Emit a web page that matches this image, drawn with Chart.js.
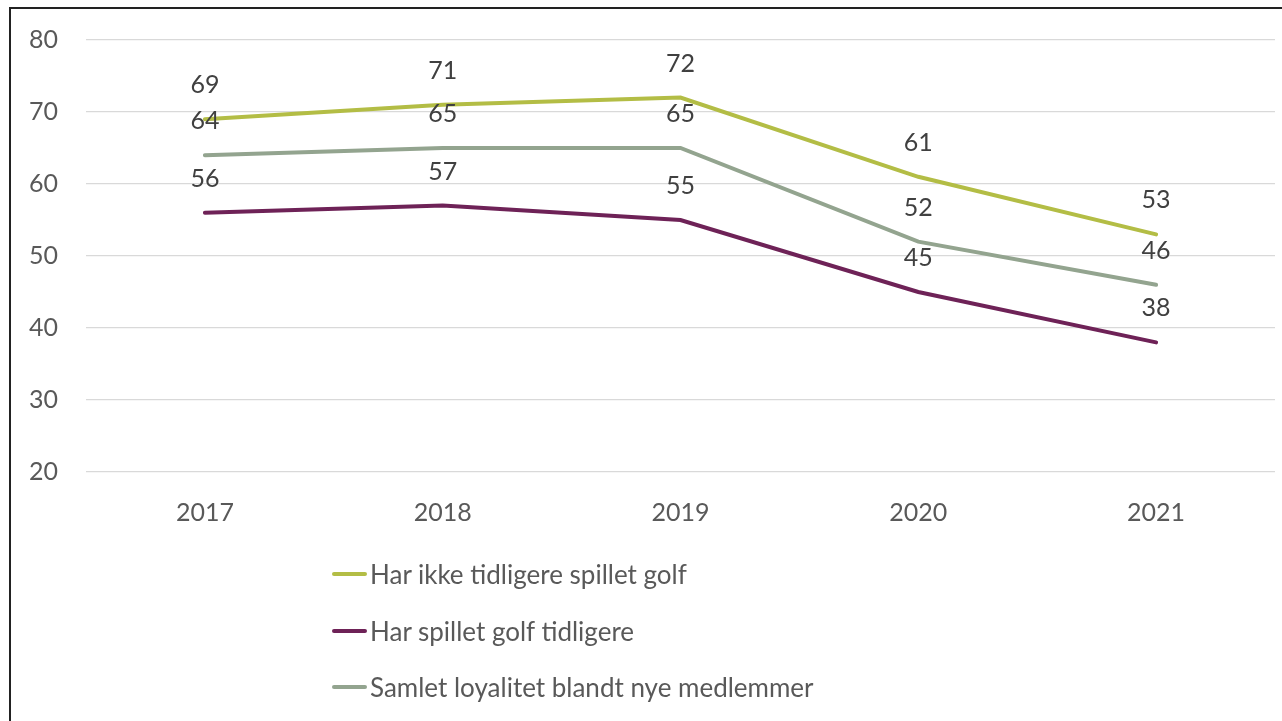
<!DOCTYPE html>
<html>
<head>
<meta charset="utf-8">
<script src="https://cdn.jsdelivr.net/npm/chart.js@4/dist/chart.umd.min.js"></script>
<style>
  html, body { margin: 0; padding: 0; background: #fff; }
  #wrap { position: relative; width: 1282px; height: 721px; overflow: hidden; }
  #frame { position: absolute; left: 9px; top: 7px; width: 1300px; height: 740px;
           border-left: 2px solid #222; border-top: 2px solid #222; box-sizing: border-box; }
  #myChart { position: absolute; left: 0; top: -3px; }
  #legend { position: absolute; left: 332px; top: 546px; font-family: Lato, "Open Sans", sans-serif;
            font-size: 26px; color: #595959; }
  #legend div { height: 56.5px; display: flex; align-items: center; }
  #legend span.sw { display: inline-block; width: 35px; height: 4px; margin-right: 3px; border-radius: 2px; }
</style>
</head>
<body>
<div id="wrap">
  <div id="frame"></div>
  <canvas id="myChart" width="1282" height="721"></canvas>
  <div id="legend"></div>
</div>
<script>
var aar = ['2017', '2018', '2019', '2020', '2021'];
var ikkeTidligere = [69, 71, 72, 61, 53];
var spiltTidligere = [56, 57, 55, 45, 38];
var samlet = [64, 65, 65, 52, 46];

var navn = ['Har ikke tidligere spillet golf', 'Har spillet golf tidligere', 'Samlet loyalitet blandt nye medlemmer'];
var farger = ['#b3bd45', '#6e2257', '#93a48f'];

var ctx = document.getElementById('myChart').getContext('2d');

// egen plugin for tallene over punktene
var verdiEtiketter = {
    id: 'verdiEtiketter',
    afterDatasetsDraw: function (chart) {
        var c = chart.ctx;
        c.save();
        c.font = '25px Lato, "Open Sans", sans-serif';
        c.fillStyle = '#404040';
        c.textAlign = 'center';
        c.textBaseline = 'middle';
        chart.data.datasets.forEach(function (ds, i) {
            var meta = chart.getDatasetMeta(i);
            meta.data.forEach(function (pt, j) {
                c.fillText(ds.data[j], pt.x, pt.y - 34);
            });
        });
        c.restore();
    }
};

var chart = new Chart(ctx, {
    type: 'line',
    data: {
        labels: aar,
        datasets: [
            { label: navn[0], data: ikkeTidligere, borderColor: farger[0], backgroundColor: farger[0] },
            { label: navn[1], data: spiltTidligere, borderColor: farger[1], backgroundColor: farger[1] },
            { label: navn[2], data: samlet, borderColor: farger[2], backgroundColor: farger[2] }
        ]
    },
    options: {
        responsive: false,
        animation: false,
        layout: { padding: { left: 10, right: 7, top: 34, bottom: 186 } },
        elements: {
            line: { borderWidth: 4, tension: 0, borderCapStyle: 'round' },
            point: { radius: 0 }
        },
        plugins: {
            legend: { display: false },
            tooltip: { enabled: false }
        },
        scales: {
            x: {
                offset: true,
                grid: { display: false, drawTicks: false },
                border: { display: false },
                ticks: { color: '#595959', font: { size: 25, family: 'Lato, "Open Sans", sans-serif' }, padding: 26 },
                afterFit: function (s) { s.height = 60; }
            },
            y: {
                min: 20,
                max: 80,
                ticks: { stepSize: 10, color: '#595959', font: { size: 25, family: 'Lato, "Open Sans", sans-serif' }, padding: 28 },
                grid: { color: '#d9d9d9', lineWidth: 1.3, drawTicks: false },
                border: { display: false },
                afterFit: function (s) { s.width = 76; }
            }
        }
    },
    plugins: [verdiEtiketter]
});

var leg = document.getElementById('legend');
for (var i = 0; i < navn.length; i++) {
    var rad = document.createElement('div');
    rad.innerHTML = '<span class="sw" style="background:' + farger[i] + '"></span>' + navn[i];
    leg.appendChild(rad);
}
</script>
</body>
</html>
